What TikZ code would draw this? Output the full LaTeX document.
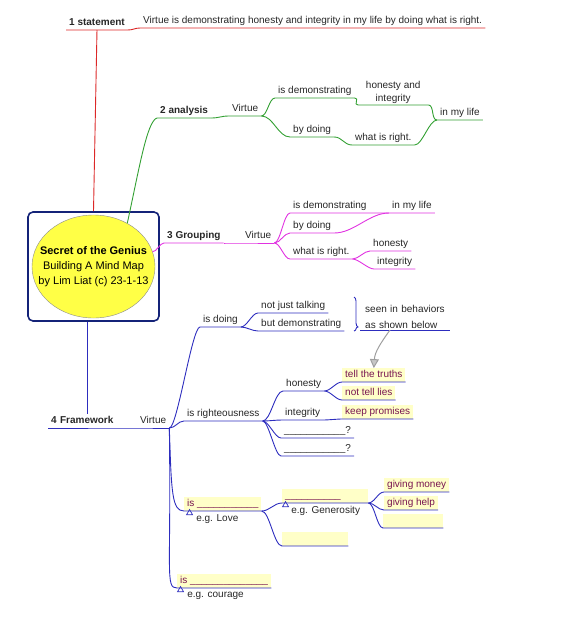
\documentclass[tikz,border=0pt]{standalone}
\usepackage{fontspec}
\setmainfont{Liberation Sans}
\usepackage{tikz}
\usetikzlibrary{arrows.meta,positioning,shapes.geometric,decorations.pathreplacing}
\usepackage{xcolor}
\definecolor{redline}{RGB}{220,40,40}
\definecolor{greenline}{RGB}{50,160,50}
\definecolor{pinkline}{RGB}{225,50,225}
\definecolor{blueline}{RGB}{45,45,190}
\definecolor{navybox}{RGB}{20,35,120}
\definecolor{sunyellow}{RGB}{255,255,70}
\definecolor{hilite}{RGB}{255,255,200}
\definecolor{plum}{RGB}{120,20,80}
\tikzset{
  hubbox/.style={draw=navybox, line width=1.6pt, rounded corners=5pt,
    minimum width=131pt, minimum height=109pt},
  hub/.style={ellipse, draw=black!45, fill=sunyellow, minimum width=123pt,
    minimum height=103pt, inner sep=0pt},
  hubtext/.style={align=center, inner sep=0pt, font=\fontsize{11}{15}\selectfont},
  tbase/.style={anchor=south west, inner xsep=3pt, inner ysep=1.5pt, text=black!85,
    font=\fontsize{10}{13}\selectfont},
  topic/.style={tbase, text height=8pt, text depth=2.5pt},
  maintopic/.style={topic, font=\fontsize{10}{13}\selectfont\bfseries},
  hltopic/.style={topic, fill=hilite, text=plum},
  note/.style={anchor=north west, inner sep=1pt, text=black!85, font=\fontsize{10}{13}\selectfont},
  tri/.style={regular polygon, regular polygon sides=3, draw=blueline, fill=white,
    minimum size=7pt, inner sep=0pt, line width=0.7pt},
  rline/.style={draw=redline, line width=0.9pt},
  gline/.style={draw=greenline, line width=0.9pt},
  pline/.style={draw=pinkline, line width=0.9pt},
  bline/.style={draw=blueline, line width=0.9pt},
  mm/.style={to path={.. controls +(#1,0) and +(-#1,0) .. (\tikztotarget) \tikztonodes}},
  mm/.default=8,
  drop/.style={to path={.. controls +(2,#1) and +(-12,0) .. (\tikztotarget) \tikztonodes}},
  garr/.style={draw=gray!75, line width=1pt, -{Triangle[length=9pt,width=9pt,fill=gray!45]}},
  braceline/.style={bline, decorate, decoration={brace, amplitude=4pt, aspect=0.88}}
}
\begin{document}
\begin{tikzpicture}[x=1pt, y=-1pt]
  \useasboundingbox (0,0) rectangle (570,640);

  \node[hubbox] (ctrbox) at (93.5,266.5) {};
  \node[hub] (ctr) at (ctrbox.center) {};
  \node[hubtext] (ctrtxt) at (ctr.center) {\textbf{Secret of the Genius}\\Building A Mind Map\\by Lim Liat (c) 23-1-13};

  % 1 statement
  \node[maintopic] (s1) at (66,30) {1 statement};
  \node[topic] (s1a) at (140,28) {Virtue is demonstrating honesty and integrity in my life by doing what is right.};
  \draw[rline] (ctrbox.north) -- (s1.south);
  \draw[rline] (s1.south west) -- (s1.south east) to[mm=5] (s1a.south west) -- (s1a.south east);

  % 2 analysis
  \node[maintopic] (a1) at (157,118) {2 analysis};
  \node[topic] (a2) at (229,116) {Virtue};
  \node[topic] (a3) at (275,98) {is demonstrating};
  \node[tbase, align=center, minimum width=70pt] (a4) at (358,105) {honesty and\\integrity};
  \node[topic] (a5) at (437,120) {in my life};
  \node[topic] (a6) at (290,137) {by doing};
  \node[topic] (a7) at (352,145) {what is right.};
  \draw[gline] (ctr.52) .. controls +(12,-55) and +(-10,3) .. (a1.south west) -- (a1.south east);
  \draw[gline] (a1.south east) to[mm] (a2.south west) -- (a2.south east);
  \draw[gline] (a2.south east) to[mm=6] (a3.south west) -- (a3.south east);
  \draw[gline] (a3.south east) to[mm=5] (a4.south west) -- (a4.south east);
  \draw[gline] (a4.south east) to[mm=6] (a5.south west) -- (a5.south east);
  \draw[gline] (a2.south east) to[mm=12] (a6.south west) -- (a6.south east);
  \draw[gline] (a6.south east) to[mm] (a7.south west) -- (a7.south east);
  \draw[gline] (a7.south east) to[mm] (a5.south west);

  % 3 Grouping
  \node[maintopic] (m1) at (164,243) {3 Grouping};
  \node[topic] (m2) at (242,243) {Virtue};
  \node[topic] (m3) at (290,213) {is demonstrating};
  \node[topic] (m4) at (290,233) {by doing};
  \node[topic] (m5) at (389,213) {in my life};
  \node[topic] (m6) at (290,259) {what is right.};
  \node[topic] (m7) at (370,251) {honesty};
  \node[topic] (m8) at (374,269) {integrity};
  \draw[pline] (ctr.14) to[mm=4] (m1.south west) -- (m1.south east);
  \draw[pline] (m1.south east) to[mm] (m2.south west) -- (m2.south east);
  \draw[pline] (m2.south east) to[mm=6] (m3.south west) -- (m3.south east) -- (m5.south west) -- (m5.south east);
  \draw[pline] (m2.south east) to[mm=6] (m4.south west) -- (m4.south east) to[mm=20] (m5.south west);
  \draw[pline] (m2.south east) to[mm=6] (m6.south west) -- (m6.south east);
  \draw[pline] (m6.south east) to[mm=6] (m7.south west) -- (m7.south east);
  \draw[pline] (m6.south east) to[mm=6] (m8.south west) -- (m8.south east);

  % 4 Framework
  \node[maintopic, text width=73pt] (f1) at (48,428) {4 Framework};
  \node[topic] (f2) at (137,428) {Virtue};
  \draw[bline] (f1.north |- ctrbox.south) -- (f1.north);
  \draw[bline] (f1.south west) -- (f1.south east) to[mm=4] (f2.south west) -- (f2.south east);

  \node[topic] (f3) at (200,327) {is doing};
  \node[topic] (f4) at (258,313) {not just talking};
  \node[topic] (f5) at (258,331) {but demonstrating};
  \coordinate (brtop) at (354,297);
  \coordinate (brbot) at (354,331);
  \node[tbase, align=left, text width=80pt, inner xsep=5pt, font=\fontsize{10}{15.5}\selectfont] (f6) at (360,330) {seen in behaviors\\as shown below};
  \draw[bline] (f2.south east) to[mm] (f3.south west) -- (f3.south east);
  \draw[bline] (f3.south east) to[mm=6] (f4.south west) -- (f4.south east);
  \draw[bline] (f3.south east) to[mm=6] (f5.south west) -- (f5.south east);
  \draw[braceline] (brtop) -- (brbot);
  \draw[bline] (f6.south west) -- (f6.south east);

  \node[topic] (f7) at (184,421) {is righteousness};
  \node[topic] (f8) at (283,391) {honesty};
  \node[hltopic] (h1) at (342,382) {tell the truths};
  \node[hltopic] (h2) at (342,400) {not tell lies};
  \node[topic] (f9) at (282,420) {integrity};
  \node[hltopic] (h3) at (342,419) {keep promises};
  \node[topic] (f10) at (281,438) {\_\_\_\_\_\_\_\_\_\_\_?};
  \node[topic] (f11) at (281,456) {\_\_\_\_\_\_\_\_\_\_\_?};
  \draw[garr] ([xshift=30pt]f6.south west) .. controls +(-10,14) and +(1,-16) .. (h1.north);
  \draw[bline] (f2.south east) to[mm=6] (f7.south west) -- (f7.south east);
  \draw[bline] (f7.south east) to[mm] (f8.south west) -- (f8.south east);
  \draw[bline] (f8.south east) to[mm=6] (h1.south west) -- (h1.south east);
  \draw[bline] (f8.south east) to[mm=6] (h2.south west) -- (h2.south east);
  \draw[bline] (f7.south east) to[mm=6] (f9.south west) -- (f9.south east) to[mm=4] (h3.south west) -- (h3.south east);
  \draw[bline] (f7.south east) to[mm=6] (f10.south west) -- (f10.south east);
  \draw[bline] (f7.south east) to[mm=6] (f11.south west) -- (f11.south east);

  \node[hltopic] (f12) at (184,511) {is \_\_\_\_\_\_\_\_\_\_\_};
  \node[tri, below right=0.5pt and 4pt of f12.south west] (t12) {};
  \node[note] (n12) at ([xshift=4pt,yshift=-2pt]t12.north east) {e.g. Love};
  \node[hltopic, text width=80pt] (f13) at (282,503) {\_\_\_\_\_\_\_\_\_\_};
  \node[tri, below right=0.5pt and 2pt of f13.south west] (t13) {};
  \node[note] (n13) at ([xshift=3pt,yshift=-2pt]t13.north east) {e.g. Generosity};
  \node[hltopic] (h4) at (384,492) {giving money};
  \node[hltopic] (h5) at (384,510) {giving help};
  \node[hltopic, minimum width=60pt] (h6) at (383,528) {};
  \node[hltopic, minimum width=66pt] (f14) at (282,546) {};
  \draw[bline] (f2.south east) to[drop=65] (f12.south west) -- (f12.south east);
  \draw[bline] (f12.south east) to[mm] (f13.south west) -- (f13.south east);
  \draw[bline] (f12.south east) to[mm] (f14.south west) -- (f14.south east);
  \draw[bline] (f13.south east) to[mm=6] (h4.south west) -- (h4.south east);
  \draw[bline] (f13.south east) to[mm=6] (h5.south west) -- (h5.south east);
  \draw[bline] (f13.south east) to[mm=6] (h6.south west) -- (h6.south east);

  \node[hltopic] (f15) at (177,588) {is \_\_\_\_\_\_\_\_\_\_\_\_\_\_};
  \node[tri, below right=0.5pt and 2pt of f15.south west] (t15) {};
  \node[note] (n15) at ([xshift=4pt,yshift=-2pt]t15.north east) {e.g. courage};
  \draw[bline] (f2.south east) to[drop=145] (f15.south west) -- (f15.south east);
\end{tikzpicture}
\end{document}
